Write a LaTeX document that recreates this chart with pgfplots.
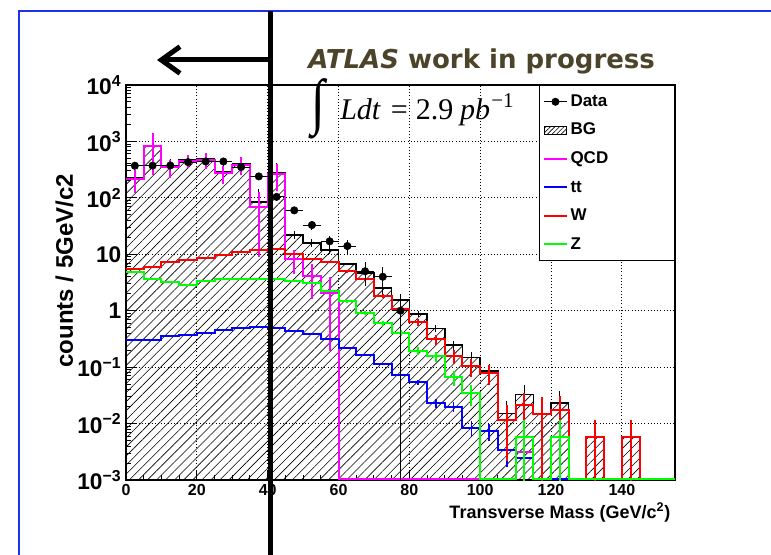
\documentclass[border=0pt]{standalone}
\usepackage{fontspec}
\setmainfont{Liberation Sans}
\newfontfamily\timesfont{Liberation Serif}
\newfontfamily\atlasfont{DejaVu Sans}
\usepackage{pgfplots}
\pgfplotsset{compat=1.18}
\usepackage{pgfplotstable}
\usetikzlibrary{patterns.meta, arrows.meta}
\definecolor{atlasc}{RGB}{75,68,42}
\definecolor{frameblue}{RGB}{30,50,235}
\definecolor{rmag}{RGB}{255,0,255}
\definecolor{rgreen}{RGB}{0,255,0}
\definecolor{rblue}{RGB}{0,0,255}
\definecolor{rred}{RGB}{255,0,0}

% histogram contents at lower bin edges (zero bins drawn at 0.00105, the floor of the plot)
\pgfplotstableread{
x   bg      qcd     tt      w       z
0   226.6   216     0.30    5.5     4.8
5   846.0   836     0.30    6.0     3.7
10  361.75  351     0.35    7.2     3.2
15  465.07  454     0.37    7.8     2.9
20  485.41  473     0.41    8.7     3.3
25  288.66  275     0.46    9.6     3.6
30  401.2   386     0.50    11.1    3.6
35  84.92   69      0.515   11.8    3.6
40  280.3   264     0.50    12.2    3.6
45  22.14   8.1     0.44    10.3    3.3
50  15.93   4.1     0.38    8.4     3.05
55  11.86   2.09    0.31    7.2     2.26
60  6.70    0.00105 0.22    5.0     1.48
65  4.683   0.00105 0.163   3.6     0.92
70  2.533   0.00105 0.113   1.82    0.60
75  1.563   0.00105 0.073   1.09    0.40
80  0.878   0.00105 0.054   0.63    0.194
85  0.488   0.00105 0.023   0.31    0.155
90  0.246   0.00105 0.020   0.16    0.066
95  0.1484  0.00105 0.0084  0.105   0.035
100 0.0855  0.00105 0.0075  0.078   0.00105
105 0.0151  0.00105 0.0034  0.0117  0.00105
110 0.0326  0.0031  0.0025  0.0213  0.0057
115 0.015   0.00105 0.00105 0.015   0.00105
120 0.0233  0.00105 0.00105 0.0176  0.0057
125 0.00105 0.00105 0.00105 0.00105 0.00105
130 0.00587 0.00105 0.00105 0.00587 0.00105
135 0.00105 0.00105 0.00105 0.00105 0.00105
140 0.00587 0.00105 0.00105 0.00587 0.00105
145 0.00105 0.00105 0.00105 0.00105 0.00105
150 0.00105 0.00105 0.00105 0.00105 0.00105
155 0.00105 0.00105 0.00105 0.00105 0.00105
}\hist

\pgfplotstableread{
x     y    ex   ep    em
2.5   371  2.5  19.3  19.3
7.5   372  2.5  19.3  19.3
12.5  375  2.5  19.4  19.4
17.5  431  2.5  20.8  20.8
22.5  441  2.5  21.0  21.0
27.5  441  2.5  21.0  21.0
32.5  351  2.5  18.7  18.7
37.5  240  2.5  15.5  15.5
42.5  104  2.5  10.2  10.2
47.5  60   2.5  7.75  7.75
52.5  33   2.5  5.74  5.74
57.5  17   2.5  4.12  4.12
62.5  14   2.5  3.74  3.74
67.5  5    2.5  2.24  2.24
72.5  4    2.5  2.0   2.0
77.5  1    2.5  1.0   0.999
}\data

\pgfplotstableread{
x     y       ep      em
2.5   226.6   92      92
7.5   846     585     585
12.5  361.75  125     125
17.5  465.07  115     115
22.5  485.41  150     150
27.5  288.66  98      98
32.5  401.2   134     134
37.5  84.92   60      60
42.5  280.3   132     132
47.5  22.14   3.6     3.6
52.5  15.93   2.5     2.5
57.5  11.86   1.9     1.9
62.5  6.70    0.27    0.27
67.5  4.683   0.22    0.22
72.5  2.533   0.16    0.16
77.5  1.563   0.125   0.125
82.5  0.878   0.094   0.094
87.5  0.488   0.068   0.068
92.5  0.246   0.048   0.048
97.5  0.1484  0.040   0.040
102.5 0.0855  0.030   0.030
107.5 0.0151  0.0097  0.0097
112.5 0.0326  0.016   0.016
117.5 0.015   0.015   0.0149
122.5 0.0233  0.014   0.014
132.5 0.00587 0.0059  0.00585
142.5 0.00587 0.0059  0.00585
}\bgerr

\pgfplotstableread{
x     y      ep    em
2.5   216    92    92
7.5   836    585   585
12.5  351    125   125
17.5  454    115   115
22.5  473    150   150
27.5  275    98    98
32.5  386    134   134
37.5  69     60    60
42.5  264    132   132
47.5  8.1    3.6   3.6
52.5  4.1    2.5   2.5
57.5  2.09   1.9   1.9
}\qcderr

\pgfplotstableread{
x     y      ep     em
77.5  0.073  0.008  0.008
82.5  0.054  0.006  0.006
87.5  0.023  0.004  0.004
92.5  0.020  0.004  0.004
97.5  0.0084 0.0026 0.0026
102.5 0.0075 0.0025 0.0025
107.5 0.0034 0.0017 0.0017
112.5 0.0025 0.0014 0.0014
}\tterr

\pgfplotstableread{
x     y       ep      em
47.5  10.3    0.35    0.35
52.5  8.4     0.32    0.32
57.5  7.2     0.29    0.29
62.5  5.0     0.245   0.245
67.5  3.6     0.21    0.21
72.5  1.82    0.148   0.148
77.5  1.09    0.114   0.114
82.5  0.63    0.087   0.087
87.5  0.31    0.061   0.061
92.5  0.16    0.044   0.044
97.5  0.105   0.037   0.037
102.5 0.078   0.030   0.030
107.5 0.0117  0.0095  0.0095
112.5 0.0213  0.014   0.014
117.5 0.015   0.015   0.0149
122.5 0.0176  0.013   0.013
132.5 0.00587 0.0059  0.00585
142.5 0.00587 0.0059  0.00585
}\werr

\pgfplotstableread{
x     y       ep      em
62.5  1.48    0.092   0.092
67.5  0.92    0.072   0.072
72.5  0.60    0.058   0.058
77.5  0.40    0.048   0.048
82.5  0.194   0.033   0.033
87.5  0.155   0.030   0.030
92.5  0.066   0.0194  0.0194
97.5  0.035   0.0141  0.0141
112.5 0.0057  0.0057  0.00565
122.5 0.0057  0.0057  0.00565
}\zerr

\pgfplotsset{
  erronly/.style 2 args={draw=none, mark=none, forget plot,
    error bars/.cd, y dir=both, y explicit, error mark=none,
    error bar style={draw=#1, line width=#2, solid}},
}

\begin{document}
\begin{tikzpicture}
\useasboundingbox (0,0) rectangle (578.25pt,-416.25pt);
\begin{axis}[
  at={(94.5pt,-360pt)}, anchor=south west,
  scale only axis, width=411.75pt, height=296.25pt,
  ymode=log, log origin y=infty, xmin=0, xmax=155, ymin=1e-3, ymax=1e4,
  axis line style={line width=1.1pt},
  tick align=inside, xtick pos=left, ytick pos=left,
  xtick={0,20,40,60,80,100,120,140}, minor x tick num=3,
  ytick={1e-3,1e-2,1e-1,1,10,100,1000,10000},
  yticklabels={10\textsuperscript{−3},10\textsuperscript{−2},10\textsuperscript{−1},1,10,10\textsuperscript{2},10\textsuperscript{3},10\textsuperscript{4}},
  minor ytick={2e-3,3e-3,4e-3,5e-3,6e-3,7e-3,8e-3,9e-3,
    2e-2,3e-2,4e-2,5e-2,6e-2,7e-2,8e-2,9e-2,
    2e-1,3e-1,4e-1,5e-1,6e-1,7e-1,8e-1,9e-1,
    2,3,4,5,6,7,8,9,20,30,40,50,60,70,80,90,
    200,300,400,500,600,700,800,900,2000,3000,4000,5000,6000,7000,8000,9000},
  major tick length=7.5pt, minor tick length=4pt,
  every tick/.style={line width=0.75pt, black},
  grid=major, major grid style={dotted, line width=0.7pt, black},
  /pgf/number format/assume math mode=true,
  xticklabel style={font=\bfseries\fontsize{12}{14}\selectfont},
  yticklabel style={font=\bfseries\fontsize{17}{20}\selectfont},
  xlabel={Transverse Mass (GeV/c\textsuperscript{2})},
  ylabel={counts / 5GeV/c2},
  every axis x label/.style={at={(axis description cs:1,-0.081)}, anchor=east, font=\bfseries\fontsize{13.5}{16}\selectfont},
  every axis y label/.style={at={(axis description cs:-0.112,0.53)}, anchor=center, rotate=90, font=\bfseries\fontsize{18}{21}\selectfont},
  legend cell align=left,
  legend style={at={(1,1)}, anchor=north east, draw=black, line width=0.75pt, fill=white,
    font=\bfseries\fontsize{12.75}{15}\selectfont, row sep=6pt, inner xsep=3pt, inner ysep=4.5pt,
    nodes={inner sep=2pt, text height=9.2pt, text depth=2.2pt, text width=73pt}},
]
\addlegendimage{black, mark=*, mark size=2.6pt, line width=0.75pt}
\addlegendentry{Data}
\addlegendimage{area legend, draw=none, pattern={Lines[angle=45,distance=2.4pt,line width=0.5pt]}}
\addlegendentry{BG}
\addlegendimage{rmag, line width=1.5pt}
\addlegendentry{QCD}
\addlegendimage{rblue, line width=1.5pt}
\addlegendentry{tt}
\addlegendimage{rred, line width=1.5pt}
\addlegendentry{W}
\addlegendimage{rgreen, line width=1.5pt}
\addlegendentry{Z}

% BG hatched area and outline
\addplot[const plot, draw=none, forget plot, pattern={Lines[angle=45,distance=4.8pt,line width=0.45pt]}] table[x=x,y=bg]{\hist} \closedcycle;
\addplot[const plot, black, line width=1.1pt, forget plot] table[x=x,y=bg]{\hist};
\addplot[erronly={black}{0.75pt}] table[x=x,y=y,y error plus=ep,y error minus=em]{\bgerr};

% QCD
\addplot[const plot, rmag, line width=1.5pt, forget plot] table[x=x,y=qcd]{\hist};
\addplot[erronly={rmag}{1.5pt}] table[x=x,y=y,y error plus=ep,y error minus=em]{\qcderr};
% ttbar
\addplot[const plot, rblue, line width=1.5pt, forget plot] table[x=x,y=tt]{\hist};
\addplot[erronly={rblue}{1.2pt}] table[x=x,y=y,y error plus=ep,y error minus=em]{\tterr};
% W
\addplot[const plot, rred, line width=1.5pt, forget plot] table[x=x,y=w]{\hist};
\addplot[erronly={rred}{1.5pt}] table[x=x,y=y,y error plus=ep,y error minus=em]{\werr};
% Z
\addplot[const plot, rgreen, line width=1.5pt, forget plot] table[x=x,y=z]{\hist};
\addplot[erronly={rgreen}{1.5pt}] table[x=x,y=y,y error plus=ep,y error minus=em]{\zerr};

% Data
\addplot[only marks, mark=*, mark size=2.8pt, black, forget plot, error bars/.cd, x dir=both, x explicit, y dir=both, y explicit, error mark=none, error bar style={black, line width=0.75pt}] table[x=x,y=y,x error=ex,y error plus=ep,y error minus=em]{\data};
\end{axis}

\begin{scope}[x=0.75pt, y=-0.75pt]
  \draw[frameblue, line width=1.5pt] (19,555) -- (19,11) -- (771,11);
  \node[anchor=base west, inner sep=0pt, text=atlasc, font=\atlasfont\bfseries\fontsize{19.5}{23}\selectfont] at (308,68.6) {\itshape ATLAS\upshape{} work in progress};
  \node[inner sep=0pt, xscale=1.7, yscale=2.1, font=\timesfont\fontsize{22}{26}\selectfont] at (318,109) {∫};
  \node[anchor=base west, inner sep=0pt, font=\timesfont\fontsize{22.5}{26}\selectfont] at (340,120) {\itshape Ldt\hspace{8pt}\upshape=\hspace{6pt}2.9\hspace{5pt}\itshape pb\upshape\hspace{1pt}\raisebox{2pt}{\textsuperscript{−1}}};
  \draw[line width=3.75pt] (270,11) -- (270,555);
  \draw[line width=3.75pt, -{Straight Barb[length=14pt, width=20pt]}] (270,60) -- (157,60);
\end{scope}
\end{tikzpicture}
\end{document}
